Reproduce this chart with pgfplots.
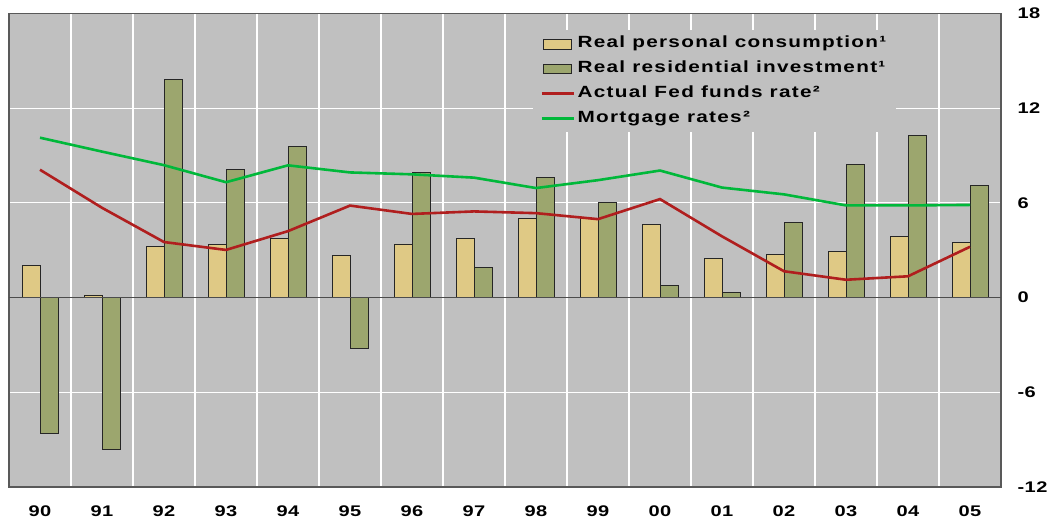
\documentclass[border=0pt]{standalone}
\usepackage{fontspec}
\setmainfont{Liberation Sans}[FakeStretch=1.3, LetterSpace=3]
\newfontfamily\legfont{Liberation Sans}[FakeStretch=1.28, LetterSpace=8]
\usepackage{pgfplots}
\pgfplotsset{compat=1.18}
\definecolor{bg}{HTML}{C0C0C0}
\definecolor{tanbar}{HTML}{DFC985}
\definecolor{olivebar}{HTML}{9CA66E}
\definecolor{fedred}{HTML}{B01E1E}
\definecolor{mortgreen}{HTML}{00B83A}
\begin{document}
\begin{tikzpicture}
\begin{axis}[name=ax, scale only axis, width=992pt, height=473.5pt,
  xmin=-0.5, xmax=15.5, ymin=-12, ymax=18,
  axis background/.style={fill=bg},
  axis line style={draw=black!65, line width=1.1pt},
  ytick={-12,-6,0,6,12,18}, ytick pos=right, yticklabel pos=right,
  xtick={0,...,15},
  xticklabels={90,91,92,93,94,95,96,97,98,99,00,01,02,03,04,05},
  minor xtick={-0.5,0.5,...,15.5},
  xminorgrids, ymajorgrids, xmajorgrids=false,
  grid style={white, line width=1.1pt},
  minor grid style={white, line width=1.1pt},
  major tick length=0pt, minor tick length=0pt,
  tick label style={font=\fontsize{15.4}{18}\selectfont\bfseries},
  /pgf/number format/assume math mode=true,
  yticklabel style={xshift=13pt},
  xticklabel style={yshift=-15.5pt},
  ybar=0pt, bar width=18pt,
  legend cell align=left,
  legend style={at={(0.528,0.965)}, anchor=north west, fill=bg, draw=none,
    font=\legfont\fontsize{16.2}{19}\selectfont\bfseries, inner xsep=7.5pt, inner ysep=6.2pt,
    row sep=9.2pt, nodes={inner ysep=0pt, text height=11.5pt, text depth=4pt}},
]
\addplot[fill=tanbar, draw=black!85, line width=0.8pt,
  legend image code/.code={\draw[fill=tanbar, draw=black!85, line width=0.8pt] (0pt,-4.8pt) rectangle (28pt,4.8pt); \path (31pt,0pt);}]
  coordinates {(0,2.01) (1,0.17) (2,3.23) (3,3.34) (4,3.74) (5,2.66) (6,3.40) (7,3.74)
   (8,5.03) (9,5.03) (10,4.63) (11,2.49) (12,2.73) (13,2.92) (14,3.87) (15,3.51)};
\addlegendentry{Real personal consumption¹}
\addplot[fill=olivebar, draw=black!85, line width=0.8pt,
  legend image code/.code={\draw[fill=olivebar, draw=black!85, line width=0.8pt] (0pt,-4.8pt) rectangle (28pt,4.8pt); \path (31pt,0pt);}]
  coordinates {(0,-8.63) (1,-9.64) (2,13.83) (3,8.12) (4,9.60) (5,-3.21) (6,7.95) (7,1.90)
   (8,7.61) (9,6.05) (10,0.78) (11,0.34) (12,4.76) (13,8.44) (14,10.27) (15,7.12)};
\addlegendentry{Real residential investment¹}
\addplot[sharp plot, fedred, line width=2.6pt, mark=none,
  legend image code/.code={\draw[fedred, line width=2.6pt] (-1.5pt,0pt) -- (31pt,0pt);}]
  coordinates {(0,8.10) (1,5.69) (2,3.52) (3,3.02) (4,4.21) (5,5.83) (6,5.30) (7,5.46)
   (8,5.35) (9,4.97) (10,6.24) (11,3.88) (12,1.67) (13,1.13) (14,1.35) (15,3.22)};
\addlegendentry{Actual Fed funds rate²}
\addplot[sharp plot, mortgreen, line width=2.6pt, mark=none,
  legend image code/.code={\draw[mortgreen, line width=2.6pt] (-1.5pt,0pt) -- (31pt,0pt);}]
  coordinates {(0,10.13) (1,9.25) (2,8.39) (3,7.31) (4,8.38) (5,7.93) (6,7.81) (7,7.60)
   (8,6.94) (9,7.44) (10,8.05) (11,6.97) (12,6.54) (13,5.84) (14,5.84) (15,5.87)};
\addlegendentry{Mortgage rates²}
\draw[black!70, line width=0.9pt] (axis cs:-0.5,0) -- (axis cs:15.5,0);
\end{axis}
\pgfresetboundingbox
\path ([shift={(-9pt,-36pt)}]ax.south west) rectangle ([shift={(55pt,13.5pt)}]ax.north east);
\end{tikzpicture}
\end{document}
